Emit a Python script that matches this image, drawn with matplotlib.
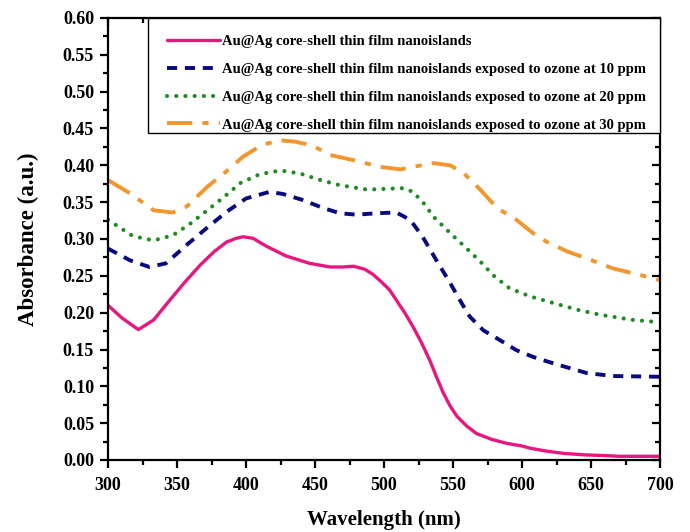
import matplotlib
matplotlib.use("Agg")
import matplotlib.pyplot as plt
from matplotlib.lines import TICKDOWN, TICKLEFT
from matplotlib.patches import Rectangle
from matplotlib.ticker import MultipleLocator, FormatStrFormatter

plt.rcParams["font.family"] = ["Liberation Serif", "DejaVu Serif"]
plt.rcParams["font.weight"] = "bold"

# UV-Vis absorbance spectra of Au@Ag core-shell nanoislands
wl_pristine = [300, 310, 322, 333, 343, 355, 367, 377, 386, 393, 398, 405, 415, 429, 446,
               461, 470, 478, 486, 492, 498, 504, 509, 515, 521, 527, 533, 538, 543, 548,
               553, 560, 567, 578, 589, 600, 606, 618, 630, 645, 660, 671, 685, 700]
abs_pristine = [0.210, 0.193, 0.177, 0.190, 0.213, 0.240, 0.265, 0.283, 0.296, 0.301, 0.303,
                0.301, 0.290, 0.277, 0.267, 0.262, 0.262, 0.263, 0.259, 0.252, 0.242, 0.231,
                0.217, 0.200, 0.181, 0.160, 0.136, 0.113, 0.091, 0.073, 0.059, 0.046, 0.036,
                0.028, 0.0226, 0.019, 0.016, 0.012, 0.009, 0.007, 0.006, 0.005, 0.005, 0.005]

wl_10ppm = [300, 316, 330, 342, 357, 371, 386, 400, 417, 427, 441, 456, 468, 480, 495,
            509, 519, 528, 538, 548, 555, 562, 572, 582, 596, 608, 623, 635, 647, 666, 700]
abs_10ppm = [0.287, 0.271, 0.262, 0.267, 0.292, 0.314, 0.337, 0.355, 0.364, 0.361, 0.353,
             0.342, 0.335, 0.333, 0.335, 0.336, 0.326, 0.303, 0.271, 0.240, 0.217, 0.195,
             0.176, 0.165, 0.149, 0.140, 0.131, 0.1245, 0.118, 0.114, 0.113]

wl_20ppm = [300, 318, 333, 347, 359, 372, 384, 396, 410, 425, 439, 454, 468, 488, 500,
            514, 521, 529, 536, 548, 560, 570, 579, 591, 606, 623, 640, 657, 681, 700]
abs_20ppm = [0.326, 0.304, 0.298, 0.305, 0.320, 0.339, 0.357, 0.376, 0.388, 0.393, 0.389,
             0.380, 0.373, 0.367, 0.368, 0.369, 0.364, 0.348, 0.330, 0.308, 0.287, 0.269,
             0.251, 0.233, 0.222, 0.213, 0.204, 0.197, 0.190, 0.187]

wl_30ppm = [300, 316, 333, 347, 357, 372, 384, 398, 412, 425, 436, 448, 461, 478, 497,
            512, 524, 536, 548, 558, 570, 582, 596, 608, 618, 633, 650, 666, 686, 700]
abs_30ppm = [0.380, 0.362, 0.339, 0.336, 0.344, 0.371, 0.389, 0.412, 0.428, 0.434, 0.432,
             0.427, 0.414, 0.407, 0.398, 0.3945, 0.399, 0.403, 0.400, 0.389, 0.3665, 0.342,
             0.326, 0.308, 0.296, 0.283, 0.2715, 0.260, 0.251, 0.244]

labels = [
    "Au@Ag core-shell thin film nanoislands",
    "Au@Ag core-shell thin film nanoislands exposed to ozone at 10 ppm",
    "Au@Ag core-shell thin film nanoislands exposed to ozone at 20 ppm",
    "Au@Ag core-shell thin film nanoislands exposed to ozone at 30 ppm",
]

x_ticks = [300, 350, 400, 450, 500, 550, 600, 650, 700]

fig = plt.figure(figsize=(6.9, 5.32), dpi=100)
ax = fig.add_axes([108 / 690, 1 - 460 / 532, 552 / 690, 442 / 532])

ax.plot(wl_pristine, abs_pristine, color="#E6187F", lw=2.4, ls="-",
        solid_capstyle="round", label=labels[0])
ax.plot(wl_10ppm, abs_10ppm, color="#0A0A80", lw=2.8, ls=(0, (2.6, 2.0)),
        label=labels[1])
ax.plot(wl_20ppm, abs_20ppm, color="#1E8A22", lw=3.0, ls=(0, (0.01, 2.2)),
        dash_capstyle="round", label=labels[2])
ax.plot(wl_30ppm, abs_30ppm, color="#F2962E", lw=2.8, ls=(0, (6.5, 2.6, 1.6, 2.6)),
        label=labels[3])

ax.set_xlim(300, 700)
ax.set_ylim(0, 0.6)
ax.set_xticks(x_ticks)
ax.xaxis.set_minor_locator(MultipleLocator(25))
ax.yaxis.set_major_locator(MultipleLocator(0.05))
ax.yaxis.set_minor_locator(MultipleLocator(0.025))
ax.yaxis.set_major_formatter(FormatStrFormatter("%.2f"))

for s in ax.spines.values():
    s.set_linewidth(1.6)

ax.tick_params(which="both", direction="out", top=True, right=True, width=1.6,
               labelsize=13)
ax.tick_params(axis="x", which="both", pad=6)
ax.tick_params(axis="y", which="both", pad=4)
ax.tick_params(which="major", length=6)
ax.tick_params(which="minor", length=3.5)
# top and right ticks point inward
for t in ax.xaxis.get_major_ticks() + ax.xaxis.get_minor_ticks():
    t.tick2line.set_marker(TICKDOWN)
for t in ax.yaxis.get_major_ticks() + ax.yaxis.get_minor_ticks():
    t.tick2line.set_marker(TICKLEFT)

for lab in ax.get_xticklabels() + ax.get_yticklabels():
    lab.set_fontweight("bold")

ax.set_xlabel("Wavelength (nm)", fontsize=15, fontweight="bold", labelpad=12)
ax.set_ylabel("Absorbance (a.u.)", fontsize=16.5, fontweight="bold", labelpad=17)

# legend frame spans from the top spine to the right spine
ax.add_patch(Rectangle((40 / 552, 1 - 115 / 442), 512 / 552, 115 / 442,
                       transform=ax.transAxes, facecolor="white", edgecolor="black",
                       lw=1.0, clip_on=False, zorder=4.5))
leg = ax.legend(loc="upper left", bbox_to_anchor=(59 / 552, 1 - 17 / 442),
                borderaxespad=0, borderpad=0, frameon=False,
                prop={"size": 10.5, "weight": "bold"},
                handlelength=3.6, handletextpad=0.2, labelspacing=1.0)
leg.set_zorder(5)

fig.savefig("out.png", dpi=100)
